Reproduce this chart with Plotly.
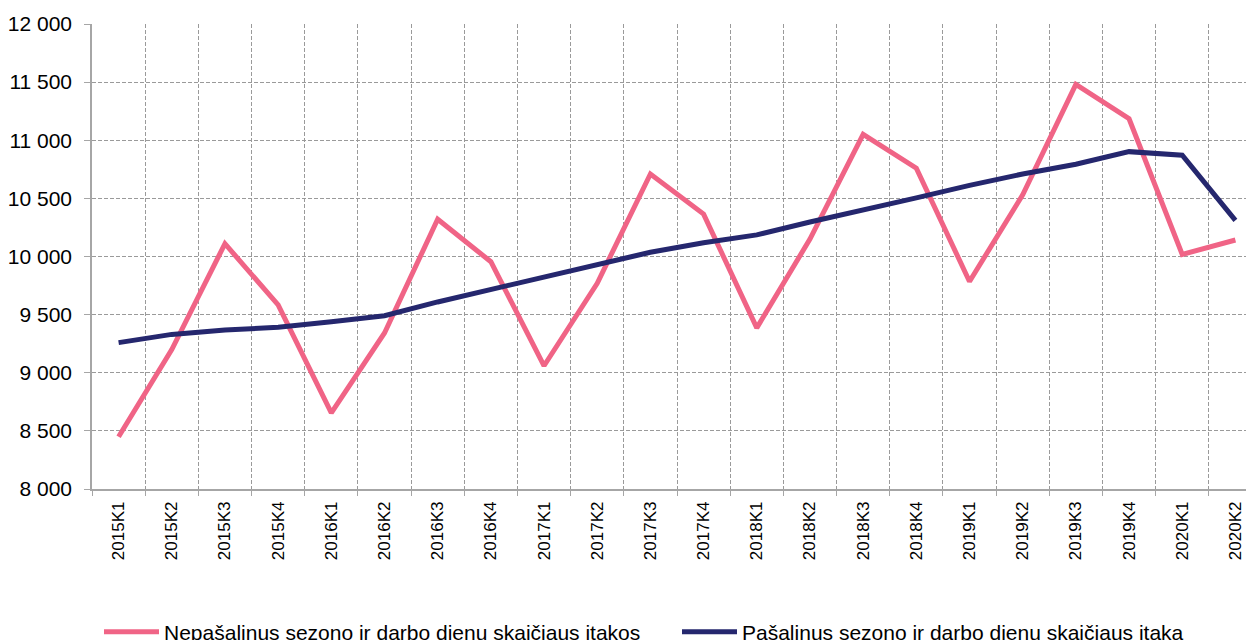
import plotly.graph_objects as go

categories = ["2015K1", "2015K2", "2015K3", "2015K4",
              "2016K1", "2016K2", "2016K3", "2016K4",
              "2017K1", "2017K2", "2017K3", "2017K4",
              "2018K1", "2018K2", "2018K3", "2018K4",
              "2019K1", "2019K2", "2019K3", "2019K4",
              "2020K1", "2020K2"]

nepasalinus = [8450, 9200, 10110, 9583,
               8654, 9342, 10320, 9955,
               9060, 9770, 10710, 10365,
               9386, 10150, 11050, 10760,
               9785, 10530, 11480, 11185,
               10018, 10142]

pasalinus = [9259, 9330, 9368, 9391,
             9439, 9490, 9609, 9715,
             9829, 9933, 10037, 10118,
             10186, 10297, 10396, 10504,
             10612, 10710, 10794, 10902,
             10871, 10311]

series_names = ["Nepašalinus sezono ir darbo dienų skaičiaus įtakos",
                "Pašalinus sezono ir darbo dienų skaičiaus įtaką"]

y_ticks = [8000, 8500, 9000, 9500, 10000, 10500, 11000, 11500, 12000]

fig = go.Figure()
fig.add_trace(go.Scatter(x=categories, y=nepasalinus, mode="lines",
                         name=series_names[0], legend="legend",
                         line=dict(color="#F06486", width=5)))
fig.add_trace(go.Scatter(x=categories, y=pasalinus, mode="lines",
                         name=series_names[1], legend="legend2",
                         line=dict(color="#25276E", width=5)))

font_family = "Liberation Sans, Arial, sans-serif"
W, H = 1254, 640
legend_common = dict(xref="container", yref="container",
                     xanchor="left", yanchor="middle",
                     font=dict(size=21, family=font_family, color="#000000"),
                     bgcolor="rgba(0,0,0,0)", borderwidth=0,
                     itemwidth=55)

fig.update_layout(
    width=W, height=H,
    margin=dict(l=84, r=0, t=16, b=159, autoexpand=False),
    plot_bgcolor="white", paper_bgcolor="white",
    separators=", ",
    font=dict(family=font_family, color="#000000"),
    showlegend=True,
    legend=dict(x=91 / W, y=1 - 624 / H, **legend_common),
    legend2=dict(x=669 / W, y=1 - 624 / H, **legend_common),
)

fig.update_xaxes(
    type="category",
    range=[-0.5, 21.5],
    tickson="boundaries",
    showgrid=True, gridcolor="#9a9a9a", gridwidth=1, griddash="4px,2px",
    showline=True, linecolor="#a6a6a6", linewidth=1.5,
    ticks="outside", ticklen=5, tickcolor="#a6a6a6",
    tickangle=-90,
    ticklabelstandoff=4,
    tickfont=dict(size=17, family=font_family, color="#000000"),
    zeroline=False,
)

fig.update_yaxes(
    range=[8000, 12000],
    tickvals=y_ticks,
    tickformat=",d",
    showgrid=True, gridcolor="#9a9a9a", gridwidth=1, griddash="4px,2px",
    showline=True, linecolor="#a6a6a6", linewidth=1.5,
    ticks="outside", ticklen=6, tickcolor="#a6a6a6",
    ticklabelstandoff=8,
    tickfont=dict(size=21, family=font_family, color="#000000"),
    zeroline=False,
)

fig.write_html("out.html")
